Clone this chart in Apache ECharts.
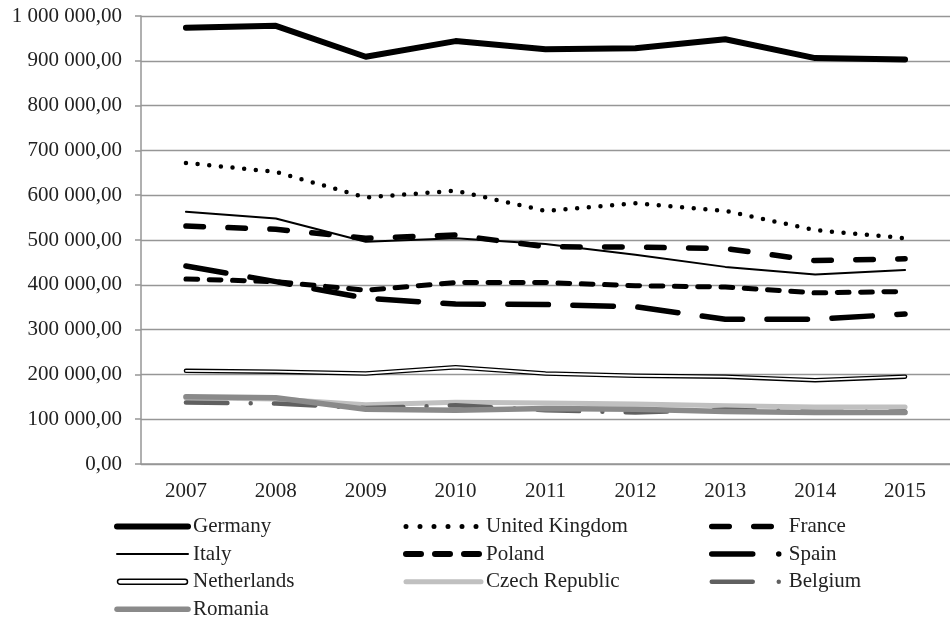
<!DOCTYPE html>
<html>
<head>
<meta charset="utf-8">
<title>Emissions by country 2007-2015</title>
<script src="https://cdn.jsdelivr.net/npm/echarts@6.0.0/dist/echarts.min.js"></script>
<style>
  html, body { margin: 0; padding: 0; background: #fff; }
  #main { width: 950px; height: 618px; }
</style>
</head>
<body>
<div id="main"></div>
<script>
const years = ["2007", "2008", "2009", "2010", "2011", "2012", "2013", "2014", "2015"];

const germany = [974000, 978000, 909000, 944000, 926000, 928000, 948000, 906000, 903000];
const unitedKingdom = [672000, 652000, 595000, 610000, 565000, 582000, 565000, 522000, 504000];
const france = [531000, 524000, 504000, 511000, 485000, 484000, 481000, 454000, 458000];
const italy = [563000, 548000, 496000, 504000, 491000, 467000, 440000, 423000, 433000];
const poland = [413000, 407000, 388000, 405000, 405000, 398000, 395000, 382000, 385000];
const spain = [442000, 407000, 370000, 357000, 356000, 351000, 323000, 323000, 335000];
const netherlands = [208000, 206000, 202000, 216000, 202000, 197000, 195000, 187000, 195000];
const czechRepublic = [148000, 145000, 132000, 138000, 136000, 134000, 130000, 127000, 127000];
const belgium = [137000, 135000, 125000, 131000, 120000, 115000, 121000, 116000, 117000];
const romania = [150000, 148000, 122000, 120000, 124000, 122000, 117000, 115000, 115000];

const font = "'Liberation Serif', 'DejaVu Serif', serif";
const gray = "#969696";
const textColor = "#222";

// thousands with spaces, decimal comma
function fmt(v) {
  return String(v).replace(/\B(?=(\d{3})+(?!\d))/g, " ") + ",00";
}

function line(name, data, color, width, type) {
  return {
    name: name,
    type: "line",
    data: data,
    color: color,
    symbol: "none",
    lineStyle: { color: color, width: width, type: type || "solid", cap: "round", join: "round" }
  };
}

const legendBase = {
  orient: "vertical",
  top: 516,
  height: 140,
  padding: 0,
  itemHeight: 14,
  itemGap: 6.6,
  selectedMode: false,
  textStyle: { fontFamily: font, fontSize: 21, color: textColor },
  itemStyle: { opacity: 0 }
};

// double line icon for Netherlands (box 71 x 14)
const nlIcon = "path://M0,0M71,14M3,4.5L68,4.5A2.5,2.5,0,0,1,68,9.5L3,9.5A2.5,2.5,0,0,1,3,4.5Z";

const option = {
  animation: false,
  backgroundColor: "#fff",
  grid: { left: 141, top: 16, width: 816, height: 448 },
  xAxis: {
    type: "category",
    data: years,
    boundaryGap: true,
    axisLine: { lineStyle: { color: gray, width: 1.5 } },
    axisTick: { length: 6, lineStyle: { color: gray, width: 1.5 } },
    axisLabel: { margin: 17, fontFamily: font, fontSize: 21, color: textColor },
    splitLine: { show: false }
  },
  yAxis: {
    type: "value",
    min: 0,
    max: 1000000,
    interval: 100000,
    axisLine: { show: true, lineStyle: { color: gray, width: 1.5 } },
    axisTick: { show: true, length: 6, lineStyle: { color: gray, width: 1.5 } },
    axisLabel: { margin: 19, fontFamily: font, fontSize: 21, color: textColor, formatter: fmt },
    splitLine: { lineStyle: { color: gray, width: 1.3 } }
  },
  legend: [
    Object.assign({}, legendBase, {
      left: 114,
      itemWidth: 71,
      data: [
        { name: "Germany", lineStyle: { color: "#000", width: 6, type: "solid", cap: "round" } },
        { name: "Italy", lineStyle: { color: "#000", width: 2, type: "solid", cap: "round" } },
        { name: "Netherlands", icon: nlIcon, itemStyle: { color: "#fff", borderColor: "#000", borderWidth: 1.5, opacity: 1 } },
        { name: "Romania", lineStyle: { color: "#8a8a8a", width: 5.5, type: "solid", cap: "round" } }
      ]
    }),
    Object.assign({}, legendBase, {
      left: 403,
      itemWidth: 75,
      data: [
        { name: "United Kingdom", lineStyle: { color: "#000", width: 5, type: [0, 14], cap: "round" } },
        { name: "Poland", lineStyle: { color: "#000", width: 6, type: [15, 14], cap: "round" } },
        { name: "Czech Republic", lineStyle: { color: "#c0c0c0", width: 5, type: "solid", cap: "round" } }
      ]
    }),
    Object.assign({}, legendBase, {
      left: 709,
      itemWidth: 72,
      data: [
        { name: "France", lineStyle: { color: "#000", width: 5.5, type: [17.5, 24.5], cap: "round" } },
        { name: "Spain", lineStyle: { color: "#000", width: 5.5, type: [41, 26, 0, 30], cap: "round" } },
        { name: "Belgium", lineStyle: { color: "#606060", width: 4.5, type: [41, 26, 0, 30], cap: "round" } }
      ]
    })
  ],
  series: [
    line("Germany", germany, "#000", 6),
    line("United Kingdom", unitedKingdom, "#000", 4.5, [0, 11.7]),
    line("France", france, "#000", 5.5, [17.5, 24.5]),
    line("Italy", italy, "#000", 2),
    line("Poland", poland, "#000", 5, [11.7, 11.6]),
    line("Spain", spain, "#000", 5.5, [40.5, 24.5]),
    line("Netherlands", netherlands, "#000", 4.5),
    line("nl-inner", netherlands, "#fff", 1.8),
    line("Czech Republic", czechRepublic, "#c0c0c0", 5),
    line("Belgium", belgium, "#606060", 4.5, [41.5, 23.25, 0, 23.25]),
    line("Romania", romania, "#8a8a8a", 5.5)
  ]
};

const chart = echarts.init(document.getElementById("main"));
chart.setOption(option);
</script>
</body>
</html>
